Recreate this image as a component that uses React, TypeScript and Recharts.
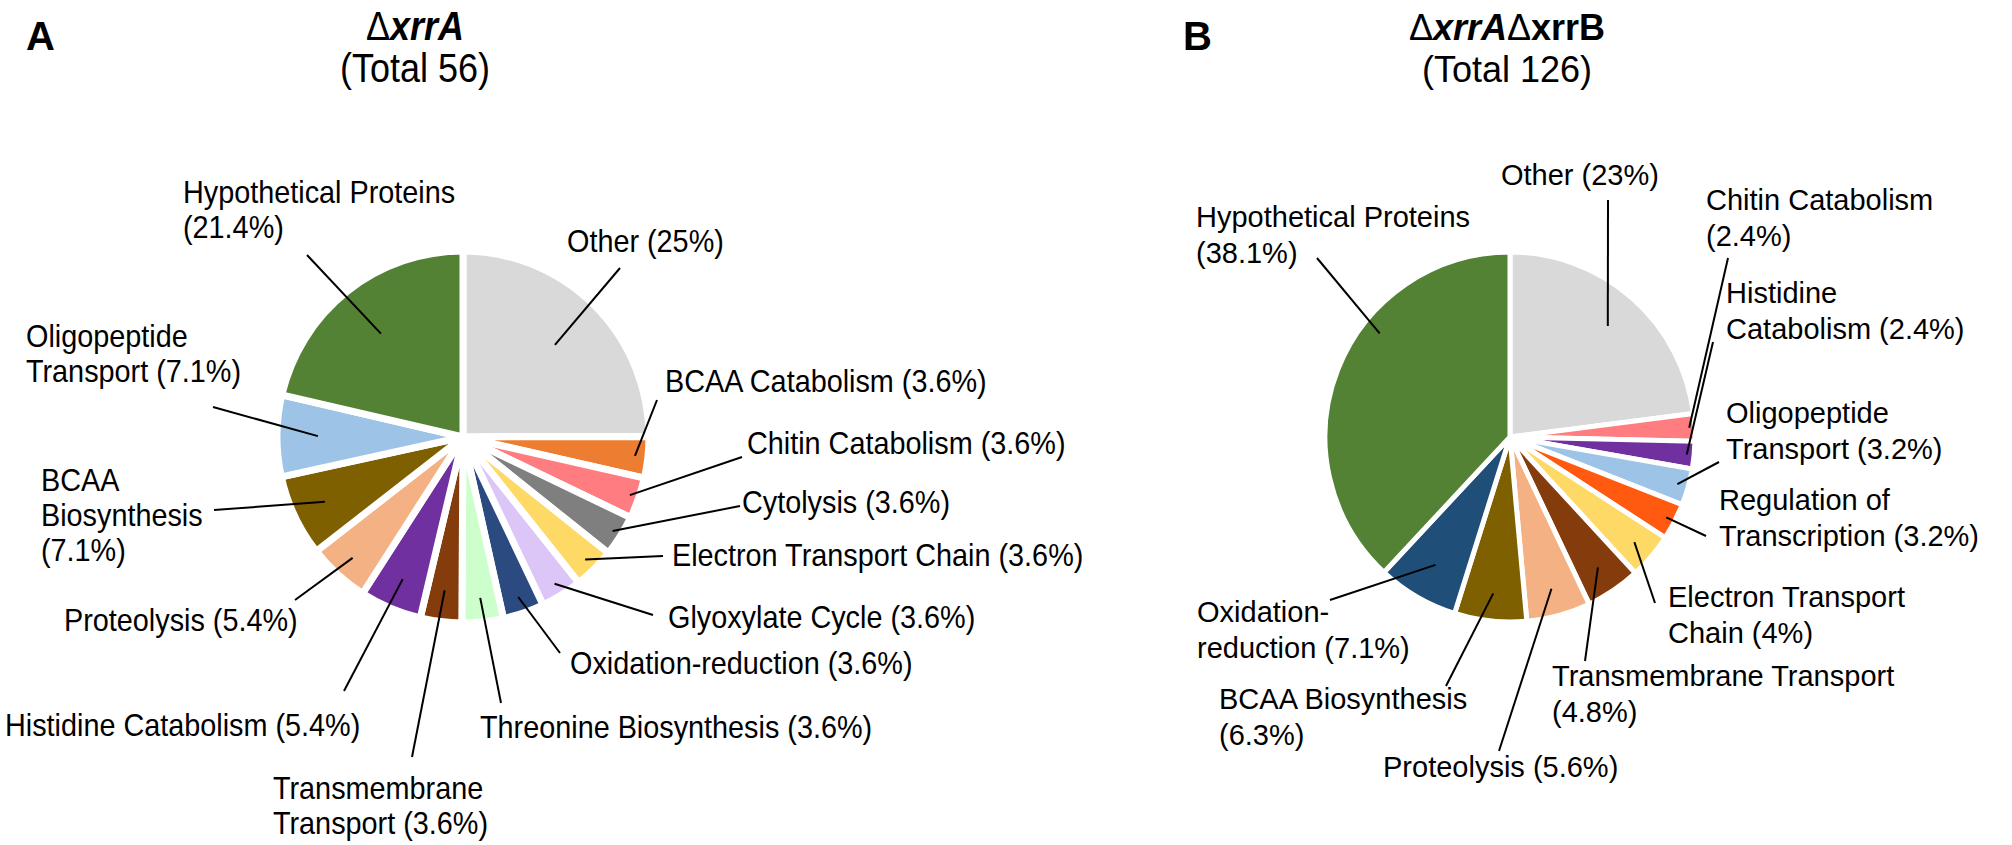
import { PieChart, Pie, Cell } from 'recharts';

// Panel A: ΔxrrA (Total 56)
const categoriesA = [
  'Other', 'BCAA Catabolism', 'Chitin Catabolism', 'Cytolysis', 'Electron Transport Chain',
  'Glyoxylate Cycle', 'Oxidation-reduction', 'Threonine Biosynthesis', 'Transmembrane Transport',
  'Histidine Catabolism', 'Proteolysis', 'BCAA Biosynthesis', 'Oligopeptide Transport', 'Hypothetical Proteins',
];
const percentA = [25, 3.6, 3.6, 3.6, 3.6, 3.6, 3.6, 3.6, 3.6, 5.4, 5.4, 7.1, 7.1, 21.4];
const labelsA = [
  'Other (25%)', 'BCAA Catabolism (3.6%)', 'Chitin Catabolism (3.6%)', 'Cytolysis (3.6%)',
  'Electron Transport Chain (3.6%)', 'Glyoxylate Cycle (3.6%)', 'Oxidation-reduction (3.6%)',
  'Threonine Biosynthesis (3.6%)', 'Transmembrane\nTransport (3.6%)', 'Histidine Catabolism (5.4%)',
  'Proteolysis (5.4%)', 'BCAA\nBiosynthesis\n(7.1%)', 'Oligopeptide\nTransport (7.1%)', 'Hypothetical Proteins\n(21.4%)',
];
const colorsA = [
  '#D9D9D9', '#ED7D31', '#FF7C80', '#7F7F7F', '#FFD966', '#DCC6F8', '#2A4A80',
  '#CCFFCC', '#843C0C', '#7030A0', '#F4B183', '#7F6000', '#9DC3E6', '#548235',
];

// Panel B: ΔxrrAΔxrrB (Total 126)
const categoriesB = [
  'Other', 'Chitin Catabolism', 'Histidine Catabolism', 'Oligopeptide Transport', 'Regulation of Transcription',
  'Electron Transport Chain', 'Transmembrane Transport', 'Proteolysis', 'BCAA Biosynthesis',
  'Oxidation-reduction', 'Hypothetical Proteins',
];
const percentB = [23, 2.4, 2.4, 3.2, 3.2, 4, 4.8, 5.6, 6.3, 7.1, 38.1];
const labelsB = [
  'Other (23%)', 'Chitin Catabolism\n(2.4%)', 'Histidine\nCatabolism (2.4%)', 'Oligopeptide\nTransport (3.2%)',
  'Regulation of\nTranscription (3.2%)', 'Electron Transport\nChain (4%)', 'Transmembrane Transport\n(4.8%)',
  'Proteolysis (5.6%)', 'BCAA Biosynthesis\n(6.3%)', 'Oxidation-\nreduction (7.1%)', 'Hypothetical Proteins\n(38.1%)',
];
const colorsB = [
  '#D9D9D9', '#FF7C80', '#7030A0', '#9DC3E6', '#FF5A10', '#FFD966', '#843C0C',
  '#F4B183', '#7F6000', '#1F4E79', '#548235',
];

// label placement: [textX, firstBaseline, lineStartX, lineStartY, radius fraction, angle tweak]
const layoutA = [
  [567, 252, 620, 268, 0.7, 0],
  [665, 392, 657, 400, 0.93, 0],
  [747, 454, 742, 457, 0.95, 0],
  [742, 513, 740, 506, 0.95, 0],
  [672, 566, 663, 556, 0.93, 0],
  [668, 628, 653, 615, 0.93, 0],
  [570, 674, 560, 653, 0.91, 0],
  [480, 738, 501, 703, 0.87, 0],
  [273, 799, 412, 757, 0.83, 0],
  [5, 736, 344, 691, 0.83, 0],
  [64, 631, 295, 600, 0.88, 0],
  [41, 491, 214, 510, 0.82, 0],
  [26, 347, 213, 407, 0.78, 0],
  [183, 203, 307, 255, 0.71, 0],
];
const layoutB = [
  [1501, 185, 1608, 200, 0.8, 0],
  [1706, 210, 1728, 258, 0.97, 0],
  [1726, 303, 1713, 342, 0.96, 0],
  [1726, 423, 1719, 462, 0.94, 0],
  [1719, 510, 1706, 536, 0.95, 0],
  [1668, 607, 1655, 603, 0.88, 0],
  [1552, 686, 1585, 661, 0.85, 0],
  [1383, 777, 1499, 751, 0.85, 0],
  [1219, 709, 1446, 686, 0.85, 0],
  [1197, 622, 1330, 600, 0.8, 0],
  [1196, 227, 1317, 258, 0.9, -17],
];

const FONT = '"Liberation Sans", Arial, sans-serif';
const RAD = Math.PI / 180;

const makeLabel = (labels: string[], layout: number[][], fs: number, lh: number, sx: number) => (props: any) => {
  const { cx, cy, midAngle, outerRadius, index } = props;
  const [tx, ty, lx, ly, frac, da] = layout[index];
  const a = (midAngle + da) * RAD;
  const px = cx + outerRadius * frac * Math.cos(-a);
  const py = cy + outerRadius * frac * Math.sin(-a);
  const lines = labels[index].split('\n');
  return (
    <g key={`lbl-${index}`}>
      <line x1={lx} y1={ly} x2={px} y2={py} stroke="#000" strokeWidth={2} />
      <text transform={`translate(${tx},${ty}) scale(${sx},1)`} fontSize={fs} fontFamily={FONT} fill="#000">
        {lines.map((l, i) => (
          <tspan key={i} x={0} y={i * lh}>{l}</tspan>
        ))}
      </text>
    </g>
  );
};

const dataA = categoriesA.map((name, i) => ({ name, value: percentA[i] }));
const dataB = categoriesB.map((name, i) => ({ name, value: percentB[i] }));

export default function App() {
  return (
    <div style={{ position: 'relative', width: 2012, height: 845, background: '#fff' }}>
      <style>{'body{margin:0}'}</style>
      <PieChart width={2012} height={845}>
        <Pie
          data={dataA}
          dataKey="value"
          cx={458}
          cy={432}
          outerRadius={186}
          startAngle={90}
          endAngle={-270}
          stroke="#fff"
          strokeWidth={7}
          label={makeLabel(labelsA, layoutA, 32, 35, 0.9)}
          labelLine={false}
          isAnimationActive={false}
        >
          {dataA.map((d, i) => (
            <Cell key={d.name} fill={colorsA[i]} />
          ))}
        </Pie>
        <Pie
          data={dataB}
          dataKey="value"
          cx={1505}
          cy={432}
          outerRadius={185}
          startAngle={90}
          endAngle={-270}
          stroke="#fff"
          strokeWidth={5}
          label={makeLabel(labelsB, layoutB, 29, 36, 1)}
          labelLine={false}
          isAnimationActive={false}
        >
          {dataB.map((d, i) => (
            <Cell key={d.name} fill={colorsB[i]} />
          ))}
        </Pie>
      </PieChart>
      <svg width={2012} height={845} style={{ position: 'absolute', left: 0, top: 0, pointerEvents: 'none' }}>
        <text x={26} y={50} fontSize={40} fontWeight="bold" fontFamily={FONT}>A</text>
        <text x={1183} y={50} fontSize={40} fontWeight="bold" fontFamily={FONT}>B</text>
        <g transform="translate(415,0) scale(0.9,1)" fontFamily={FONT} fontSize={40} textAnchor="middle">
          <text x={0} y={40}>
            <tspan>Δ</tspan>
            <tspan fontWeight="bold" fontStyle="italic">xrrA</tspan>
          </text>
          <text x={0} y={82}>(Total 56)</text>
        </g>
        <g fontFamily={FONT} fontSize={36} textAnchor="middle">
          <text x={1507} y={40}>
            <tspan>Δ</tspan>
            <tspan fontWeight="bold" fontStyle="italic">xrrA</tspan>
            <tspan>Δ</tspan>
            <tspan fontWeight="bold">xrrB</tspan>
          </text>
          <text x={1507} y={82}>(Total 126)</text>
        </g>
      </svg>
    </div>
  );
}
